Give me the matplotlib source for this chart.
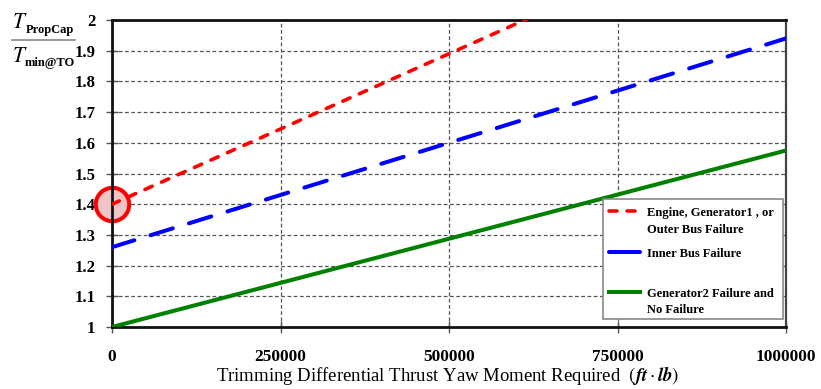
import matplotlib
matplotlib.use("Agg")
import matplotlib.pyplot as plt
from matplotlib.lines import Line2D
from matplotlib.patches import Rectangle

# Data
x_vals = [0, 1000000]
engine_fail = [1.40, 2.38]
inner_bus = [1.26, 1.94]
gen2_fail = [1.00, 1.575]
x_ticks = [0, 250000, 500000, 750000, 1000000]
y_ticks = [1.0, 1.1, 1.2, 1.3, 1.4, 1.5, 1.6, 1.7, 1.8, 1.9, 2.0]
y_ticklabels = ["1", "1.1", "1.2", "1.3", "1.4", "1.5", "1.6", "1.7", "1.8", "1.9", "2"]
labels = [["Engine, Generator1 , or", "Outer Bus Failure"], ["Inner Bus Failure"],
          ["Generator2 Failure and", "No Failure"]]

plt.rcParams['font.family'] = ['Liberation Serif', 'DejaVu Serif']
plt.rcParams['mathtext.fontset'] = 'stix'

W, H = 821, 389
fig = plt.figure(figsize=(W / 100, H / 100), dpi=100)
ax = fig.add_axes([112 / W, 1 - 327 / H, (786 - 112) / W, (327 - 20) / H])

def fx(px):
    return px / W

def fy(py):
    return 1 - py / H

red_style = dict(color='#ff0000', lw=2.6, dashes=(2.2, 2.8), dash_capstyle='round')
blue_style = dict(color='#0000ff', lw=2.9, dashes=(5.8, 4.2), dash_capstyle='round')
green_style = dict(color='#008000', lw=2.9)

ax.plot(x_vals, engine_fail, zorder=3, **red_style)
ax.plot(x_vals, inner_bus, zorder=3, **blue_style)
ax.plot(x_vals, gen2_fail, zorder=3, **green_style)

ax.scatter([x_vals[0]], [engine_fail[0]], s=580, facecolor='#efc4c4', edgecolor='#ff0000',
           linewidth=2.9, zorder=2.5, clip_on=False)

ax.set_xlim(0, 1000000)
ax.set_ylim(1.0, 2.0)
ax.set_xticks(x_ticks)
ax.set_xticklabels([str(v) for v in x_ticks], fontweight='bold', fontsize=12.5)
ax.set_yticks(y_ticks)
ax.set_yticklabels(y_ticklabels, fontweight='bold', fontsize=12)
ax.tick_params(axis='x', direction='inout', length=8, width=1, pad=12, color='#555555')
ax.tick_params(axis='y', direction='inout', length=8, width=1, pad=8, color='#555555')

ax.grid(True, linestyle=(0, (3, 2)), color='#555555', linewidth=0.9)
for s in ['left', 'bottom', 'top']:
    ax.spines[s].set_linewidth(2.0)
    ax.spines[s].set_color('#111111')
ax.spines['right'].set_linewidth(1.6)
ax.spines['right'].set_color('#444444')

fig.text(fx(448), fy(381),
         r"Trimming Differential Thrust Yaw Moment Required  $\left(\boldsymbol{ft}\cdot\boldsymbol{lb}\right)$",
         fontsize=13.5, ha='center', va='baseline')

# Legend (drawn manually to match the layout)
fig.add_artist(Rectangle((fx(603), fy(319)), fx(783) - fx(603), fy(199) - fy(319),
                         transform=fig.transFigure, facecolor='white', edgecolor='#888888',
                         linewidth=1.2, zorder=5))
handles_y = [211, 252, 292]
blue_handle = dict(color='#0000ff', lw=2.9, solid_capstyle='round')
styles = [red_style, blue_handle, green_style]
baselines = [[216, 233], [257], [297, 313]]
for hy, st, labs, bls in zip(handles_y, styles, labels, baselines):
    fig.add_artist(Line2D([fx(609), fx(640)], [fy(hy), fy(hy)], transform=fig.transFigure,
                          zorder=6, **st))
    for lab, bl in zip(labs, bls):
        fig.text(fx(647), fy(bl), lab, fontsize=9, fontweight='bold', ha='left',
                 va='baseline', zorder=6)

# Y-axis label as a fraction
fig.text(fx(12), fy(28), r"$T$", fontsize=15.5, ha='left', va='baseline')
fig.text(fx(26), fy(33), "PropCap", fontsize=9, fontweight='bold', ha='left', va='baseline')
fig.add_artist(Line2D([fx(12), fx(75)], [fy(40), fy(40)], color='#888888', lw=1.2))
fig.text(fx(12), fy(62), r"$T$", fontsize=15.5, ha='left', va='baseline')
fig.text(fx(25), fy(66), "min@TO", fontsize=9, fontweight='bold', ha='left', va='baseline')

fig.savefig("out.png", dpi=100)
